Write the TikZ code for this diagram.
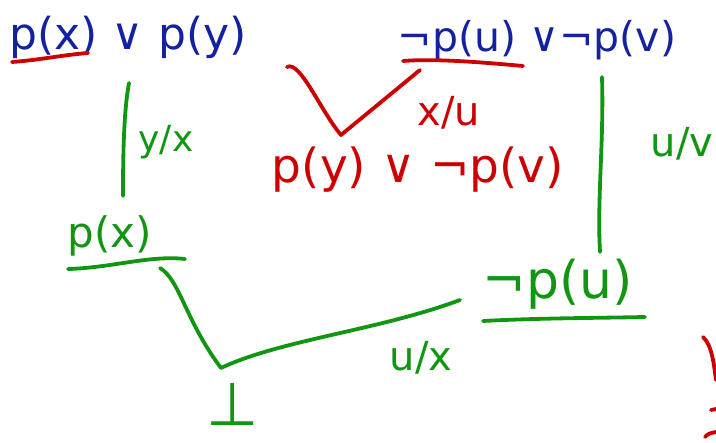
\documentclass[tikz,border=0pt]{standalone}
\usepackage{fontspec}
\setmainfont{DejaVu Sans}
\definecolor{inkblue}{RGB}{20,34,160}
\definecolor{inkred}{RGB}{204,0,0}
\definecolor{inkgreen}{RGB}{17,150,17}
\tikzset{
  stroke/.style={line width=3.8pt, line cap=round, line join=round},
  clause/.style={inner sep=0pt, font=\fontsize{44}{48}\selectfont},
  small/.style={inner sep=0pt, font=\fontsize{40}{44}\selectfont},
}
\begin{document}
\begin{tikzpicture}[x=1pt,y=-1pt]
\useasboundingbox (0,0) rectangle (716,443);
% clauses
\node[clause, text=inkblue] (c1) at (128,37) {p(x) ∨ p(y)};
\node[clause, text=inkblue, font=\fontsize{41}{46}\selectfont] (c2) at (537,40) {¬p(u) ∨¬p(v)};
\node[clause, text=inkred, font=\fontsize{47}{52}\selectfont] (r1) at (418,170) {p(y) ∨ ¬p(v)};
\node[clause, text=inkgreen, font=\fontsize{42}{46}\selectfont] (g1) at (110,236) {p(x)};
\node[clause, text=inkgreen, font=\fontsize{52}{56}\selectfont] (g2) at (558,284) {¬p(u)};
\node[clause, text=inkgreen, font=\fontsize{60}{64}\selectfont] (bot) at (233,404) {⊥};
% substitution labels
\node[small, text=inkgreen, font=\fontsize{36}{40}\selectfont] (l1) at (166,142) {y/x};
\node[small, text=inkred] (l2) at (449,113) {x/u};
\node[small, text=inkgreen] (l3) at (682,144) {u/v};
\node[small, text=inkgreen] (l4) at (421,358) {u/x};
% underlines
\draw[stroke, inkred] (12,62) .. controls (40,60) and (62,55) .. (88,53);
\draw[stroke, inkred] (403,61) .. controls (440,58) and (500,64) .. (523,66);
\draw[stroke, inkgreen] (68,269) .. controls (110,268) and (150,255) .. (185,259);
\draw[stroke, inkgreen] (483,321) .. controls (540,318) and (600,318) .. (645,317);
% connectors
\coordinate (a1) at (129,83);
\coordinate (a2) at (123,196);
\draw[stroke, inkgreen] (a1) .. controls (124,110) and (123,150) .. (a2);
\coordinate (b1) at (287,67);
\coordinate (b2) at (341,135);
\coordinate (b3) at (420,70);
\draw[stroke, inkred] (b1) .. controls (300,60) and (320,110) .. (b2) -- (b3);
\coordinate (d1) at (602,77);
\coordinate (d2) at (600,252);
\draw[stroke, inkgreen] (d1) .. controls (604,140) and (597,200) .. (d2);
\coordinate (e1) at (160,268);
\coordinate (e2) at (221,368);
\coordinate (e3) at (460,300);
\draw[stroke, inkgreen] (e1) .. controls (180,280) and (185,320) .. (e2)
  .. controls (280,340) and (380,330) .. (e3);
% partial red marks at right edge
\draw[stroke, inkred] (703,337) .. controls (712,345) and (714,365) .. (716,380);
\draw[stroke, inkred] (711,410) -- (716,409);
\draw[stroke, inkred] (705,437) .. controls (708,433) and (712,433) .. (716,432);
\end{tikzpicture}
\end{document}
